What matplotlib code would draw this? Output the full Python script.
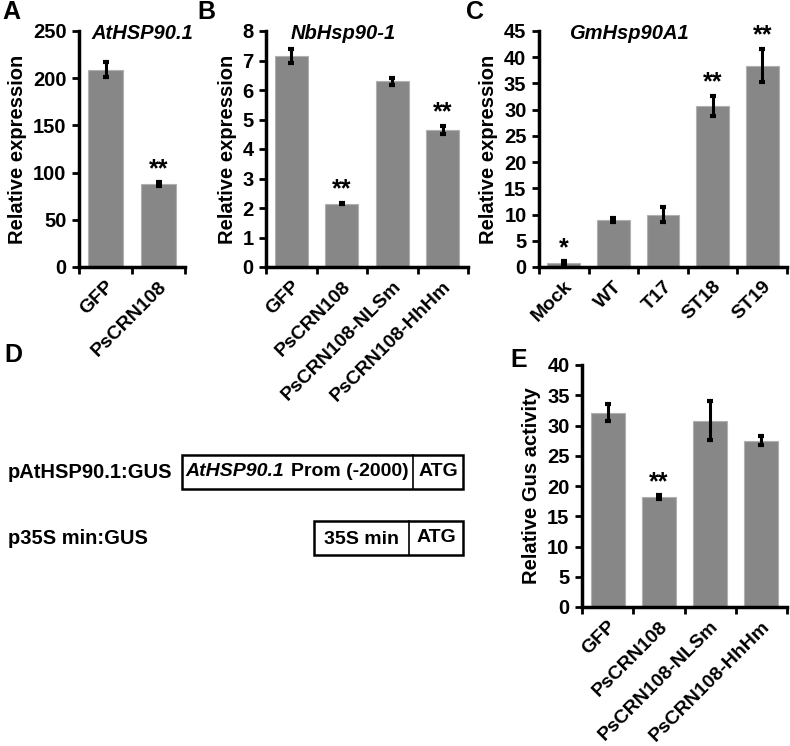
import matplotlib
matplotlib.use("Agg")
import matplotlib.pyplot as plt
from matplotlib.patches import Rectangle

plt.rcParams['font.family'] = ['Liberation Sans', 'DejaVu Sans']
plt.rcParams['font.weight'] = 'bold'

# Panel A
a_labels = ["GFP", "PsCRN108"]
a_values = [209, 88]
a_errors = [8, 2]
a_stars = ["", "**"]

# Panel B
b_labels = ["GFP", "PsCRN108", "PsCRN108-NLSm", "PsCRN108-HhHm"]
b_values = [7.15, 2.15, 6.3, 4.65]
b_errors = [0.25, 0.03, 0.12, 0.13]
b_stars = ["", "**", "", "**"]

# Panel C
c_labels = ["Mock", "WT", "T17", "ST18", "ST19"]
c_values = [0.8, 9.0, 10.0, 30.7, 38.4]
c_errors = [0.3, 0.4, 1.4, 2.0, 3.2]
c_stars = ["*", "", "", "**", "**"]

# Panel E
e_labels = ["GFP", "PsCRN108", "PsCRN108-NLSm", "PsCRN108-HhHm"]
e_values = [32.1, 18.2, 30.8, 27.5]
e_errors = [1.4, 0.3, 3.2, 0.8]
e_stars = ["", "**", "", ""]

BAR = '#878787'
W, H = 790, 746
FS = 14


def px_axes(fig, left, top, right, bottom):
    return fig.add_axes([left / W, 1 - bottom / H, (right - left) / W, (bottom - top) / H])


def bar_panel(ax, labels, values, errors, stars, ymax, ystep, ylabel, title=None):
    x = list(range(len(labels)))
    ax.bar(x, values, width=0.66, color=BAR, edgecolor='#b0b0b0', linewidth=0.8, zorder=2)
    ax.errorbar(x, values, yerr=errors, fmt='none', ecolor='black', elinewidth=2.2,
                capsize=2.5, capthick=3, zorder=3)
    for xi, v, e, s in zip(x, values, errors, stars):
        if s:
            ax.text(xi, v + e + ymax * 0.005, s, ha='center', va='bottom',
                    fontsize=18, fontweight='bold')
    ax.set_xlim(-0.5, len(labels) - 0.5)
    ax.set_ylim(0, ymax)
    ax.set_yticks([i * ystep for i in range(int(round(ymax / ystep)) + 1)])
    ax.set_xticks(x)
    ax.set_xticklabels(labels, rotation=45, ha='right', rotation_mode='anchor',
                       fontsize=FS, fontweight='bold')
    ax.set_xticks([i - 0.5 for i in range(len(labels) + 1)], minor=True)
    ax.tick_params(axis='x', which='major', length=0, pad=8)
    ax.tick_params(axis='x', which='minor', length=5, width=2, direction='out')
    ax.tick_params(axis='y', length=5, width=2, direction='out', labelsize=FS + 0.5, pad=4)
    for lab in ax.get_yticklabels():
        lab.set_fontweight('bold')
    for sp in ['top', 'right']:
        ax.spines[sp].set_visible(False)
    for sp in ['left', 'bottom']:
        ax.spines[sp].set_linewidth(2.5)
    ax.set_ylabel(ylabel, fontsize=FS + 0.5, fontweight='bold', labelpad=4)
    if title:
        ax.text(0.12, 0.99, title, transform=ax.transAxes, ha='left', va='center',
                fontsize=14.5, fontweight='bold', style='italic')


fig = plt.figure(figsize=(7.9, 7.46), dpi=100)

ax_a = px_axes(fig, 79, 31, 185, 267)
bar_panel(ax_a, a_labels, a_values, a_errors, a_stars, 250, 50, "Relative expression", "AtHSP90.1")

ax_b = px_axes(fig, 266, 31, 468, 267)
bar_panel(ax_b, b_labels, b_values, b_errors, b_stars, 8, 1, "Relative expression", "NbHsp90-1")

ax_c = px_axes(fig, 539, 31, 787, 267)
bar_panel(ax_c, c_labels, c_values, c_errors, c_stars, 45, 5, "Relative expression", "GmHsp90A1")

ax_e = px_axes(fig, 582, 365, 787, 607)
bar_panel(ax_e, e_labels, e_values, e_errors, e_stars, 40, 5, "Relative Gus activity")

# Panel D: construct diagram, drawn in pixel coordinates
ax_d = fig.add_axes([0, 0, 1, 1], zorder=-1)
ax_d.set_xlim(0, W)
ax_d.set_ylim(H, 0)
ax_d.axis('off')

fs = 14.5
bfs = 14
ax_d.text(8, 472, "pAtHSP90.1:GUS", fontsize=fs, fontweight='bold', va='center')
ax_d.add_patch(Rectangle((182, 455), 281, 34, fill=False, lw=1.8, ec='black'))
ax_d.plot([413, 413], [455, 489], color='black', lw=1.2)
ax_d.text(185, 472, "AtHSP90.1", fontsize=bfs, fontweight='bold', style='italic', va='center')
ax_d.text(291, 472, "Prom (-2000)", fontsize=bfs, fontweight='bold', va='center')
ax_d.text(438, 472, "ATG", fontsize=bfs, fontweight='bold', va='center', ha='center')

ax_d.text(8, 538, "p35S min:GUS", fontsize=fs, fontweight='bold', va='center')
ax_d.add_patch(Rectangle((314, 521), 149, 34, fill=False, lw=1.8, ec='black'))
ax_d.plot([409, 409], [521, 555], color='black', lw=1.2)
ax_d.text(362, 539, "35S min", fontsize=bfs, fontweight='bold', va='center', ha='center')
ax_d.text(436, 538, "ATG", fontsize=bfs, fontweight='bold', va='center', ha='center')

# Panel letters
for letter, (lx, ly) in zip("ABCDE", [(2, 12), (197, 12), (466, 12), (4, 355), (510, 360)]):
    ax_d.text(lx, ly, letter, fontsize=18, fontweight='bold', va='center', ha='left')

fig.savefig("out.png", dpi=100)
